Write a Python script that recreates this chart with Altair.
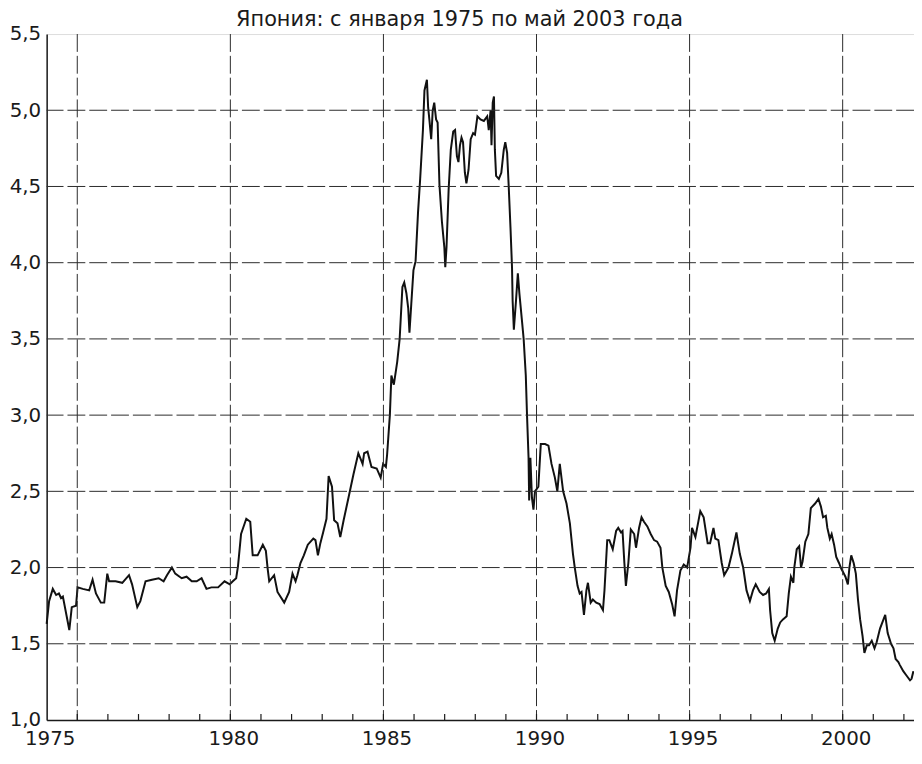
import altair as alt
import pandas as pd

# Decimal year of each reading (Jan 1975 = 1975.00) and the value
years = [
    1975.00, 1975.08, 1975.20, 1975.31, 1975.40, 1975.47, 1975.53, 1975.74, 1975.82, 1975.96,
    1976.01, 1976.18, 1976.39, 1976.50, 1976.61, 1976.77, 1976.88, 1976.98, 1977.04, 1977.25,
    1977.47, 1977.69, 1977.79, 1977.96, 1978.06, 1978.23, 1978.44, 1978.66, 1978.82, 1978.93,
    1979.09, 1979.20, 1979.41, 1979.57, 1979.74, 1979.90, 1980.06, 1980.22, 1980.38, 1980.60,
    1980.81, 1980.98, 1981.08, 1981.19, 1981.25, 1981.35, 1981.52, 1981.65, 1981.73, 1981.89,
    1982.06, 1982.16, 1982.22, 1982.27, 1982.43, 1982.54, 1982.76, 1982.92, 1983.03, 1983.13,
    1983.19, 1983.29, 1983.40, 1983.53, 1983.71, 1983.78, 1983.86, 1983.94, 1984.03, 1984.14,
    1984.21, 1984.32, 1984.39, 1984.50, 1984.59, 1984.70, 1984.86, 1985.02, 1985.18, 1985.32,
    1985.37, 1985.48, 1985.61, 1985.78, 1985.91, 1985.99, 1986.08, 1986.12, 1986.21, 1986.26,
    1986.34, 1986.45, 1986.53, 1986.62, 1986.68, 1986.75, 1986.81, 1986.85, 1986.91, 1986.98,
    1987.05, 1987.13, 1987.20, 1987.29, 1987.34, 1987.42, 1987.46, 1987.50, 1987.56, 1987.61,
    1987.66, 1987.72, 1987.77, 1987.83, 1987.91, 1987.99, 1988.02, 1988.06, 1988.13, 1988.20,
    1988.28, 1988.34, 1988.40, 1988.45, 1988.50, 1988.55, 1988.60, 1988.66, 1988.71, 1988.78,
    1988.85, 1988.93, 1988.99, 1989.07, 1989.17, 1989.28, 1989.39, 1989.44, 1989.50, 1989.53,
    1989.57, 1989.61, 1989.64, 1989.68, 1989.77, 1989.85, 1989.93, 1989.98, 1990.04, 1990.09,
    1990.15, 1990.20, 1990.22, 1990.26, 1990.33, 1990.39, 1990.44, 1990.52, 1990.58, 1990.65,
    1990.69, 1990.74, 1990.76, 1990.80, 1990.85, 1990.90, 1990.95, 1991.06, 1991.14, 1991.28,
    1991.39, 1991.49, 1991.60, 1991.68, 1991.76, 1991.87, 1991.98, 1992.09, 1992.19, 1992.25,
    1992.34, 1992.41, 1992.47, 1992.55, 1992.63, 1992.68, 1992.77, 1992.84, 1992.95, 1993.06,
    1993.17, 1993.22, 1993.31, 1993.38, 1993.49, 1993.60, 1993.67, 1993.76, 1993.81, 1993.87,
    1993.92, 1994.00, 1994.08, 1994.19, 1994.25, 1994.35, 1994.43, 1994.51, 1994.62, 1994.73,
    1994.84, 1994.94, 1995.05, 1995.11, 1995.22, 1995.32, 1995.43, 1995.51, 1995.59, 1995.70,
    1995.81, 1995.92, 1996.03, 1996.08, 1996.19, 1996.35, 1996.46, 1996.59, 1996.67, 1996.78,
    1996.84, 1996.94, 1997.05, 1997.13, 1997.27, 1997.38, 1997.53, 1997.64, 1997.75, 1997.86,
    1997.97, 1998.07, 1998.16, 1998.29, 1998.40, 1998.50, 1998.59, 1998.63, 1998.70, 1998.78,
    1998.88, 1998.96, 1999.05, 1999.17, 1999.24, 1999.31, 1999.39, 1999.42, 1999.50, 1999.58,
    1999.64, 1999.69, 1999.78, 1999.88, 1999.96, 2000.10, 2000.21, 2000.29, 2000.36, 2000.45,
    2000.50, 2000.58, 2000.64, 2000.72, 2000.79, 2000.88, 2000.96, 2001.04, 2001.09, 2001.17,
    2001.22, 2001.28, 2001.36, 2001.43, 2001.50, 2001.57, 2001.65, 2001.71, 2001.79, 2001.86,
    2001.95, 2002.04, 2002.11, 2002.22, 2002.39, 2002.47, 2002.58, 2002.66, 2002.73, 2002.82,
    2002.87, 2002.98, 2003.09, 2003.20, 2003.25, 2003.31,
]
values = [
    1.63, 1.78, 1.86, 1.82, 1.83, 1.80, 1.81, 1.59, 1.74, 1.75,
    1.87, 1.86, 1.85, 1.92, 1.83, 1.77, 1.77, 1.96, 1.91, 1.91,
    1.90, 1.95, 1.89, 1.74, 1.78, 1.91, 1.92, 1.93, 1.91, 1.95,
    2.00, 1.96, 1.93, 1.94, 1.91, 1.91, 1.93, 1.86, 1.87, 1.87,
    1.91, 1.89, 1.91, 1.93, 2.01, 2.22, 2.32, 2.30, 2.08, 2.08,
    2.15, 2.11, 1.99, 1.91, 1.95, 1.84, 1.77, 1.84, 1.96, 1.91,
    1.95, 2.03, 2.08, 2.15, 2.19, 2.18, 2.08, 2.16, 2.23, 2.32,
    2.60, 2.53, 2.31, 2.29, 2.20, 2.31, 2.46, 2.61, 2.75, 2.68,
    2.75, 2.76, 2.66, 2.65, 2.59, 2.68, 2.66, 2.74, 3.00, 3.26,
    3.20, 3.35, 3.50, 3.84, 3.87, 3.80, 3.70, 3.54, 3.73, 3.95,
    4.01, 4.33, 4.55, 4.87, 5.13, 5.20, 5.02, 4.94, 4.81, 5.00,
    5.05, 4.94, 4.92, 4.51, 4.27, 4.10, 3.97, 4.10, 4.48, 4.74,
    4.86, 4.87, 4.70, 4.66, 4.77, 4.82, 4.79, 4.59, 4.52, 4.61,
    4.81, 4.85, 4.84, 4.96, 4.94, 4.93, 4.96, 4.87, 5.00, 4.77,
    5.05, 5.09, 4.74, 4.57, 4.55, 4.59, 4.74, 4.79, 4.72, 4.51,
    4.23, 3.97, 3.75, 3.56, 3.75, 3.93, 3.80, 3.63, 3.50, 3.26,
    3.00, 2.72, 2.44, 2.72, 2.46, 2.38, 2.50, 2.53, 2.81, 2.81,
    2.80, 2.68, 2.59, 2.50, 2.68, 2.50, 2.42, 2.29, 2.09, 2.00,
    1.88, 1.83, 1.84, 1.69, 1.85, 1.90, 1.77, 1.79, 1.77, 1.76,
    1.72, 1.85, 2.18, 2.18, 2.12, 2.24, 2.26, 2.23, 2.24, 2.03,
    1.88, 2.03, 2.25, 2.22, 2.13, 2.26, 2.33, 2.30, 2.27, 2.22,
    2.18, 2.17, 2.13, 2.00, 1.88, 1.84, 1.76, 1.68, 1.85, 1.98,
    2.02, 2.00, 2.13, 2.26, 2.20, 2.37, 2.33, 2.16, 2.16, 2.26,
    2.19, 2.18, 2.03, 1.95, 2.00, 2.09, 2.23, 2.09, 2.00, 1.85,
    1.78, 1.85, 1.89, 1.84, 1.82, 1.83, 1.86, 1.72, 1.57, 1.52,
    1.60, 1.64, 1.66, 1.68, 1.83, 1.94, 1.90, 2.00, 2.12, 2.14,
    2.00, 2.04, 2.17, 2.22, 2.39, 2.42, 2.45, 2.40, 2.33, 2.34,
    2.26, 2.19, 2.22, 2.15, 2.07, 2.03, 1.99, 1.96, 1.94, 1.89,
    2.00, 2.08, 2.03, 1.96, 1.79, 1.66, 1.55, 1.44, 1.49, 1.49,
    1.52, 1.47, 1.51, 1.60, 1.69, 1.57, 1.50, 1.47, 1.40, 1.38,
    1.36, 1.32, 1.29, 1.26, 1.27, 1.32,
]

x_domain = [1975, 2003.33]
y_domain = [1.0, 5.5]
x_label_values = [1975, 1981, 1986, 1991, 1996, 2001]
y_label_values = [1.0, 1.5, 2.0, 2.5, 3.0, 3.5, 4.0, 4.5, 5.0, 5.5]
v_grid = [1976, 1981, 1986, 1991, 1996, 2001]
h_grid = [1.5, 2.0, 2.5, 3.0, 3.5, 4.0, 4.5, 5.0]
year_ticks = list(range(1976, 2004))

W, H = 875, 692
FONT = "DejaVu Sans"
INK = "#1a1a1a"

xs = alt.Scale(domain=x_domain, nice=False, zero=False)
ys = alt.Scale(domain=y_domain, nice=False, zero=False)

x_axis = alt.Axis(
    values=x_label_values,
    labelExpr="datum.value == 1975 ? '1975' : '' + (datum.value - 1)",
    grid=False,
    ticks=False,
    domainColor=INK,
    domainWidth=1.5,
    labelFont=FONT,
    labelFontSize=20,
    labelColor=INK,
    labelPadding=9,
    labelFlush=False,
    labelOffset=3,
    title=None,
)
y_axis = alt.Axis(
    values=y_label_values,
    labelExpr="replace(format(datum.value, '.1f'), '.', ',')",
    grid=False,
    ticks=False,
    domainColor=INK,
    domainWidth=1.5,
    labelFont=FONT,
    labelFontSize=20,
    labelColor=INK,
    labelPadding=6,
    title=None,
)

df = pd.DataFrame({"t": years, "v": values})

line = alt.Chart(df).mark_line(color="#111111", strokeWidth=2).encode(
    x=alt.X("t:Q", scale=xs, axis=x_axis),
    y=alt.Y("v:Q", scale=ys, axis=y_axis),
)

hgrid = alt.Chart(pd.DataFrame({"v": h_grid})).mark_rule(
    color="#2a2a2a", strokeWidth=1, strokeDash=[18, 4]
).encode(y=alt.Y("v:Q", scale=ys, axis=y_axis))

vgrid = alt.Chart(pd.DataFrame({"t": v_grid})).mark_rule(
    color="#2a2a2a", strokeWidth=1, strokeDash=[18, 4]
).encode(x=alt.X("t:Q", scale=xs, axis=x_axis))

ticks = alt.Chart(pd.DataFrame({"t": year_ticks})).mark_rule(
    color=INK, strokeWidth=1.2
).encode(
    x=alt.X("t:Q", scale=xs, axis=x_axis),
    y=alt.value(H),
    y2=alt.value(H - 6),
)

chart = alt.layer(line, hgrid, vgrid, ticks).properties(
    width=W,
    height=H,
    autosize=alt.AutoSizeParams(type="none"),
    padding={"left": 39, "top": 23, "right": 0, "bottom": 27},
    title=alt.TitleParams(
        text="Япония: с января 1975 по май 2003 года",
        font=FONT,
        fontSize=21,
        fontWeight="normal",
        color=INK,
        anchor="middle",
        frame="group",
        offset=0,
        dy=6,
        dx=-21,
    ),
).configure_view(strokeWidth=0, stroke="transparent").configure(background="white")

chart.save("out.html", embed_options={"renderer": "svg", "actions": False})
